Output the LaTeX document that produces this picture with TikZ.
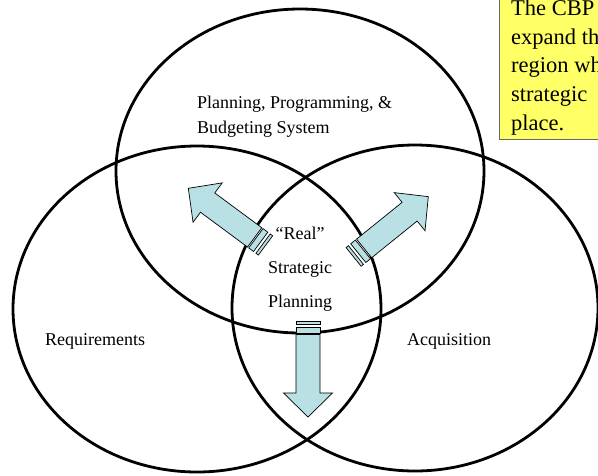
\documentclass[tikz,border=0pt]{standalone}
\usepackage{fontspec}
\setmainfont{Liberation Serif}
\usetikzlibrary{positioning}
\definecolor{arrowblue}{RGB}{185,224,228}
\definecolor{noteyellow}{RGB}{255,255,102}
\tikzset{%
    ring/.style={line width=2.8pt},
    lbl/.style={inner sep=0pt,font=\fontsize{18}{25}\selectfont,align=left},
    arrowpart/.style={fill=arrowblue,draw=black,line width=0.7pt},
    stripearrow/.pic={
        \path[arrowpart] (0,-12) rectangle (3,12);
        \path[arrowpart] (6,-12) rectangle (12,12);
        \path[arrowpart] (13.5,-12) -- (72,-12) -- (72,-24.5) -- (96,0)
            -- (72,24.5) -- (72,12) -- (13.5,12) -- cycle;
    }
}
\begin{document}
\begin{tikzpicture}[x=1pt,y=-1pt]
        \useasboundingbox (0,0) rectangle (598,475);
        \clip (0,0) rectangle (598,475);
        % the three sets
        \draw[ring] (300,171) ellipse [x radius=184,y radius=162];
        \draw[ring] (197,309) ellipse [x radius=184,y radius=163];
        \draw[ring] (415,308) ellipse [x radius=183,y radius=163];
        % arrows out of the middle
        \pic (toppb) [rotate=143.5] at (265.5,245.4) {stripearrow};
        \pic (toacq) [rotate=38.9] at (353.6,256.9) {stripearrow};
        \pic (toreq) [rotate=-90] at (308,321) {stripearrow};
        % labels
        \node[lbl,anchor=north west] (ppbs) at (197,95.5) {Planning, Programming, \&\\Budgeting System};
        \node[lbl,anchor=base west] (req) at (45,345) {Requirements};
        \node[lbl,anchor=base west] (acq) at (407,345) {Acquisition};
        \node[lbl,align=center,anchor=north,font=\fontsize{18}{34}\selectfont] (real) at (300,226.5) {``Real''\\Strategic\\Planning};
        % note box
        \draw[fill=noteyellow,draw=gray!80!black,line width=1pt] (499,-5) rectangle (620,139);
        \node[lbl,anchor=north west,font=\fontsize{22.5}{28.7}\selectfont] (note) at (511,-0.4) {The CBP\\expand th\\region wh\\strategic\\place.};
\end{tikzpicture}
\end{document}
